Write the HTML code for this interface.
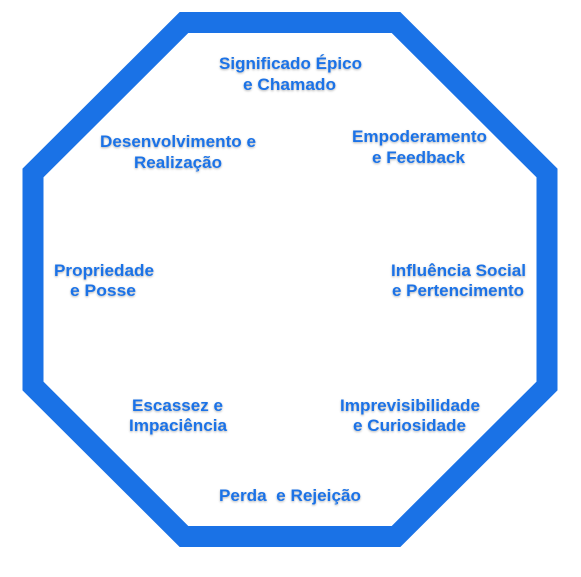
<!DOCTYPE html>
<html><head><meta charset="utf-8"><style>
html,body{margin:0;padding:0;background:#fff;}
svg{display:block}
text{font-family:"Liberation Sans",sans-serif;font-weight:bold;font-size:16.5px;fill:#1a72e6;filter:url(#sh)}
</style></head><body>
<svg width="581" height="577" viewBox="0 0 581 577" xmlns="http://www.w3.org/2000/svg">
<defs><filter id="sh" x="-10%" y="-30%" width="120%" height="160%"><feDropShadow dx="0" dy="1" stdDeviation="1" flood-color="#000" flood-opacity="0.3"/></filter></defs>
<polygon points="184,22.5 396,22.5 547,173 547,386 396,536.5 184,536.5 33,386 33,173" fill="none" stroke="#1a72e6" stroke-width="21" stroke-linejoin="miter"/>
<text x="219" y="69" textLength="143" lengthAdjust="spacingAndGlyphs">Significado Épico</text>
<text x="243" y="90" textLength="93" lengthAdjust="spacingAndGlyphs">e Chamado</text>
<text x="100" y="147" textLength="156" lengthAdjust="spacingAndGlyphs">Desenvolvimento e</text>
<text x="134" y="168" textLength="88" lengthAdjust="spacingAndGlyphs">Realização</text>
<text x="352" y="142" textLength="135" lengthAdjust="spacingAndGlyphs">Empoderamento</text>
<text x="372" y="163" textLength="93" lengthAdjust="spacingAndGlyphs">e Feedback</text>
<text x="54" y="276" textLength="100" lengthAdjust="spacingAndGlyphs">Propriedade</text>
<text x="70" y="296" textLength="66" lengthAdjust="spacingAndGlyphs">e Posse</text>
<text x="391" y="276" textLength="135" lengthAdjust="spacingAndGlyphs">Influência Social</text>
<text x="392" y="296" textLength="132" lengthAdjust="spacingAndGlyphs">e Pertencimento</text>
<text x="132" y="411" textLength="91" lengthAdjust="spacingAndGlyphs">Escassez e</text>
<text x="129" y="431" textLength="98" lengthAdjust="spacingAndGlyphs">Impaciência</text>
<text x="340" y="411" textLength="140" lengthAdjust="spacingAndGlyphs">Imprevisibilidade</text>
<text x="353" y="431" textLength="113" lengthAdjust="spacingAndGlyphs">e Curiosidade</text>
<text x="219" y="501" textLength="142" lengthAdjust="spacingAndGlyphs" xml:space="preserve">Perda  e Rejeição</text>
</svg>
</body></html>
